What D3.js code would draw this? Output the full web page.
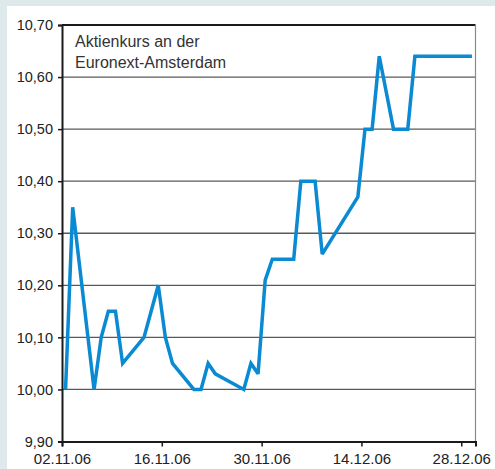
<!DOCTYPE html>
<html>
<head>
<meta charset="utf-8">
<script src="https://cdn.jsdelivr.net/npm/d3@7"></script>
<style>
  html, body { margin: 0; padding: 0; background: #dde9ea; }
  #chart { width: 495px; height: 469px; }
</style>
</head>
<body>
<div id="chart"></div>
<script>
(function() {
  var FONT = '"Liberation Sans", Arial, sans-serif';
  var BLUE = '#0a8ad2';

  // Kursdaten (Tag, Kurs in EUR)
  var dates = ['02.11.06','03.11.06','06.11.06','07.11.06','08.11.06','09.11.06','10.11.06',
    '13.11.06','15.11.06','16.11.06','17.11.06','20.11.06','21.11.06','22.11.06','23.11.06',
    '27.11.06','28.11.06','29.11.06','30.11.06','01.12.06','04.12.06','05.12.06','07.12.06',
    '08.12.06','13.12.06','14.12.06','15.12.06','16.12.06','18.12.06','20.12.06','21.12.06','29.12.06'];
  var prices = [10.00, 10.35, 10.00, 10.10, 10.15, 10.15, 10.05,
    10.10, 10.20, 10.10, 10.05, 10.00, 10.00, 10.05, 10.03,
    10.00, 10.05, 10.03, 10.21, 10.25, 10.25, 10.40, 10.40,
    10.26, 10.37, 10.50, 10.50, 10.64, 10.50, 10.50, 10.64, 10.64];

  var yTicks = [9.9, 10.0, 10.1, 10.2, 10.3, 10.4, 10.5, 10.6, 10.7];
  var xTickLabels = ['02.11.06', '16.11.06', '30.11.06', '14.12.06', '28.12.06'];
  var xDomain = ['02.11.06', '30.12.06'];
  var titleLines = ['Aktienkurs an der', 'Euronext-Amsterdam'];

  var parse = d3.timeParse('%d.%m.%y');
  var de = d3.formatLocale({ decimal: ',', thousands: '.', grouping: [3], currency: ['', ' €'] });
  var fmtY = de.format('.2f');

  var data = dates.map(function(d, i) { return { date: parse(d), value: prices[i] }; });

  var w = 495, h = 469;
  var margin = { top: 25, right: 19.5, bottom: 27.5, left: 62 };
  var iw = w - margin.left - margin.right;
  var ih = h - margin.top - margin.bottom;

  var svg = d3.select('#chart').append('svg').attr('width', w).attr('height', h);

  // white panel
  svg.append('rect').attr('x', 7).attr('y', 6).attr('width', w - 7).attr('height', h - 6).attr('fill', '#fff');

  var g = svg.append('g').attr('transform', 'translate(' + margin.left + ',' + margin.top + ')');

  var x = d3.scaleTime().domain(xDomain.map(parse)).range([0, iw]);
  var y = d3.scaleLinear().domain([9.9, 10.7]).range([ih, 0]);
  // points sit in the middle of their day
  var dayW = x(d3.timeDay.offset(x.domain()[0], 1)) - x(x.domain()[0]);
  var px = function(d) { return x(d.date) + dayW / 2; };

  // Grid
  g.append('g').selectAll('line').data(yTicks.slice(1, -1)).join('line')
    .attr('x1', 0).attr('x2', iw)
    .attr('y1', function(d) { return y(d); }).attr('y2', function(d) { return y(d); })
    .attr('stroke', '#5a5a5a').attr('stroke-width', 1.3);

  // top line
  g.append('line').attr('x1', 0).attr('x2', iw).attr('y1', y(10.7)).attr('y2', y(10.7))
    .attr('stroke', '#1a1a1a').attr('stroke-width', 2);
  // right border
  g.append('line').attr('x1', iw).attr('x2', iw).attr('y1', y(10.7)).attr('y2', y(9.9))
    .attr('stroke', '#8a8a8a').attr('stroke-width', 1.2);

  // Y axis
  g.append('g')
    .call(d3.axisLeft(y).tickValues(yTicks).tickSize(4).tickPadding(5).tickFormat(fmtY))
    .call(function(a) { a.select('.domain').attr('stroke', '#1a1a1a').attr('stroke-width', 2); })
    .call(function(a) { a.selectAll('.tick line').attr('stroke', '#1a1a1a').attr('stroke-width', 1.5); })
    .call(function(a) { a.selectAll('.tick text').attr('fill', '#222').attr('font-size', '14.5px').attr('font-family', FONT); });

  // X axis
  g.append('g').attr('transform', 'translate(0,' + ih + ')')
    .call(d3.axisBottom(x).tickValues(xTickLabels.map(parse)).tickSize(5).tickPadding(7)
      .tickFormat(d3.timeFormat('%d.%m.%y')))
    .call(function(a) { a.select('.domain').attr('stroke', '#1a1a1a').attr('stroke-width', 2); })
    .call(function(a) { a.selectAll('.tick line').attr('stroke', '#1a1a1a').attr('stroke-width', 1.5); })
    .call(function(a) { a.selectAll('.tick text').attr('fill', '#222').attr('font-size', '15px').attr('font-family', FONT); });

  // Line
  g.append('path').datum(data)
    .attr('fill', 'none').attr('stroke', BLUE).attr('stroke-width', 3.5)
    .attr('stroke-linejoin', 'miter').attr('stroke-miterlimit', 3)
    .attr('d', d3.line().x(px).y(function(d) { return y(d.value); }));

  // Title
  svg.append('text').attr('x', 75).attr('y', 47).attr('fill', '#333')
    .attr('font-size', '16px').attr('font-family', FONT)
    .selectAll('tspan').data(titleLines).join('tspan')
    .attr('x', 75).attr('dy', function(d, i) { return i ? 21 : 0; })
    .text(function(d) { return d; });
})();
</script>
</body>
</html>
